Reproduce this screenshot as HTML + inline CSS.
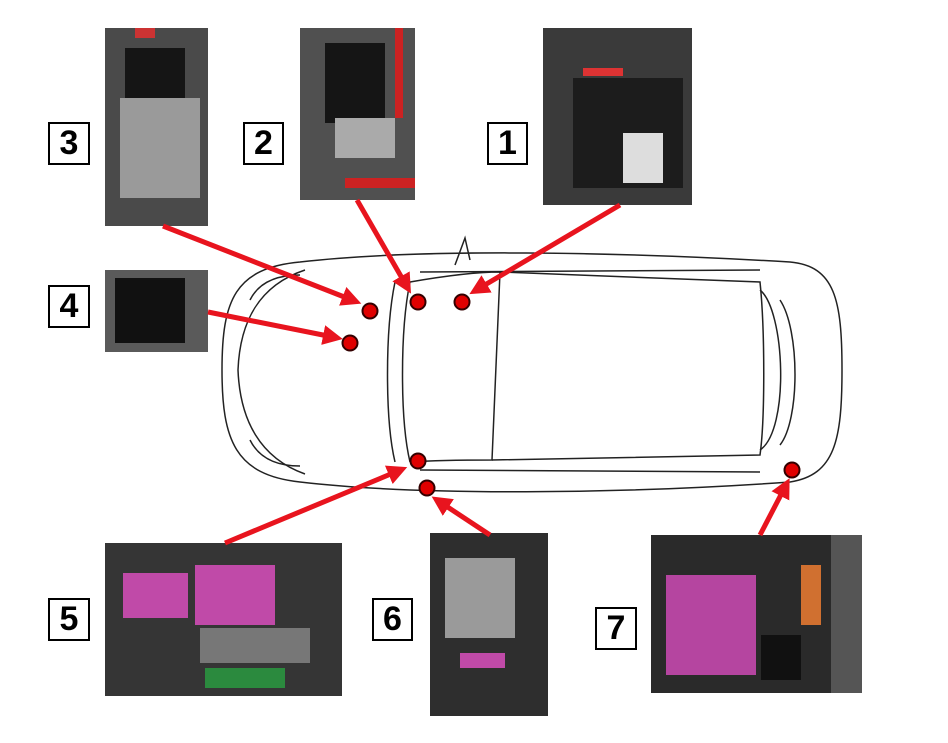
<!DOCTYPE html>
<html><head><meta charset="utf-8"><style>
body{margin:0;width:948px;height:743px;background:#fff;position:relative;overflow:hidden;font-family:"Liberation Sans",sans-serif}
.ph{position:absolute;background:#2b2b2b;overflow:hidden}
.lb{position:absolute;border:2px solid #000;background:#fff;font-weight:bold;font-size:34px;display:flex;align-items:center;justify-content:center;box-sizing:border-box}
svg{position:absolute;left:0;top:0}
</style></head><body>
<div class="ph" style="left:105px;top:28px;width:103px;height:198px;background:#4a4a4a">
 <div style="position:absolute;left:15px;top:70px;width:80px;height:100px;background:#9a9a9a"></div>
 <div style="position:absolute;left:20px;top:20px;width:60px;height:50px;background:#151515"></div>
 <div style="position:absolute;left:30px;top:0;width:20px;height:10px;background:#c33"></div>
</div>
<div class="ph" style="left:300px;top:28px;width:115px;height:172px;background:#505050">
 <div style="position:absolute;left:25px;top:15px;width:60px;height:80px;background:#151515"></div>
 <div style="position:absolute;left:35px;top:90px;width:60px;height:40px;background:#aaa"></div>
 <div style="position:absolute;left:45px;top:150px;width:70px;height:10px;background:#c22"></div>
 <div style="position:absolute;left:95px;top:0;width:8px;height:90px;background:#c22"></div>
</div>
<div class="ph" style="left:543px;top:28px;width:149px;height:177px;background:#3a3a3a">
 <div style="position:absolute;left:30px;top:50px;width:110px;height:110px;background:#1c1c1c"></div>
 <div style="position:absolute;left:80px;top:105px;width:40px;height:50px;background:#ddd"></div>
 <div style="position:absolute;left:40px;top:40px;width:40px;height:8px;background:#d33"></div>
</div>
<div class="ph" style="left:105px;top:270px;width:103px;height:82px;background:#5a5a5a">
 <div style="position:absolute;left:10px;top:8px;width:70px;height:65px;background:#111"></div>
</div>
<div class="ph" style="left:105px;top:543px;width:237px;height:153px;background:#353535">
 <div style="position:absolute;left:18px;top:30px;width:65px;height:45px;background:#c04aa8"></div>
 <div style="position:absolute;left:90px;top:22px;width:80px;height:60px;background:#c04aa8"></div>
 <div style="position:absolute;left:95px;top:85px;width:110px;height:35px;background:#777"></div>
 <div style="position:absolute;left:100px;top:125px;width:80px;height:20px;background:#2b8a3e"></div>
</div>
<div class="ph" style="left:430px;top:533px;width:118px;height:183px;background:#2e2e2e">
 <div style="position:absolute;left:15px;top:25px;width:70px;height:80px;background:#9a9a9a"></div>
 <div style="position:absolute;left:30px;top:120px;width:45px;height:15px;background:#c04aa8"></div>
</div>
<div class="ph" style="left:651px;top:535px;width:211px;height:158px;background:#2a2a2a">
 <div style="position:absolute;left:15px;top:40px;width:90px;height:100px;background:#b545a0"></div>
 <div style="position:absolute;left:110px;top:100px;width:40px;height:45px;background:#111"></div>
 <div style="position:absolute;left:150px;top:30px;width:20px;height:60px;background:#d07030"></div>
 <div style="position:absolute;left:180px;top:0;width:31px;height:158px;background:#555"></div>
</div>
<div class="lb" style="left:48px;top:122px;width:42px;height:43px">3</div>
<div class="lb" style="left:243px;top:122px;width:41px;height:43px">2</div>
<div class="lb" style="left:487px;top:122px;width:41px;height:43px">1</div>
<div class="lb" style="left:48px;top:285px;width:42px;height:43px">4</div>
<div class="lb" style="left:48px;top:598px;width:42px;height:43px">5</div>
<div class="lb" style="left:372px;top:598px;width:41px;height:43px">6</div>
<div class="lb" style="left:595px;top:607px;width:42px;height:43px">7</div>
<svg width="948" height="743">
<defs><marker id="a" markerWidth="4" markerHeight="4" refX="2" refY="2" orient="auto" markerUnits="strokeWidth"><path d="M0,0L4,2L0,4z" fill="#e8141e"/></marker></defs>
<g fill="none" stroke="#222" stroke-width="1.5">
<path d="M300,262 C420,248 620,252 790,262 C835,266 842,300 842,370 C842,440 835,475 790,482 C620,494 420,496 300,482 C235,475 222,440 222,370 C222,300 235,268 300,262Z"/>
<path d="M305,270 C260,285 240,320 238,370 C240,420 260,458 305,474"/>
<path d="M395,282 C385,330 385,420 395,462 M410,282 C400,330 400,420 410,462"/>
<path d="M410,282 C450,275 480,272 500,272 L492,460 C470,460 440,460 410,462"/>
<path d="M500,272 L760,282 C765,330 765,420 760,455 L492,460"/>
<path d="M760,290 C785,310 790,430 760,450 M780,300 C800,330 800,420 780,445"/>
<path d="M420,272 L760,270 M420,470 L760,472"/>
<path d="M455,265 L465,238 L470,260" />
<path d="M250,300 C260,280 280,275 300,275 M250,440 C260,460 280,466 300,466"/>
</g>
<g stroke="#e8141e" stroke-width="5" fill="none" marker-end="url(#a)">
<line x1="163" y1="226" x2="352" y2="300"/>
<line x1="357" y1="200" x2="406" y2="285"/>
<line x1="620" y1="205" x2="478" y2="289"/>
<line x1="208" y1="312" x2="333" y2="337"/>
<line x1="225" y1="543" x2="398" y2="471"/>
<line x1="490" y1="535" x2="440" y2="502"/>
<line x1="760" y1="535" x2="785" y2="487"/>
</g>
<g fill="#e00000" stroke="#300" stroke-width="2">
<circle cx="370" cy="311" r="7.5"/><circle cx="418" cy="302" r="7.5"/><circle cx="462" cy="302" r="7.5"/>
<circle cx="350" cy="343" r="7.5"/><circle cx="418" cy="461" r="7.5"/><circle cx="427" cy="488" r="7.5"/><circle cx="792" cy="470" r="7.5"/>
</g>
</svg>
</body></html>
